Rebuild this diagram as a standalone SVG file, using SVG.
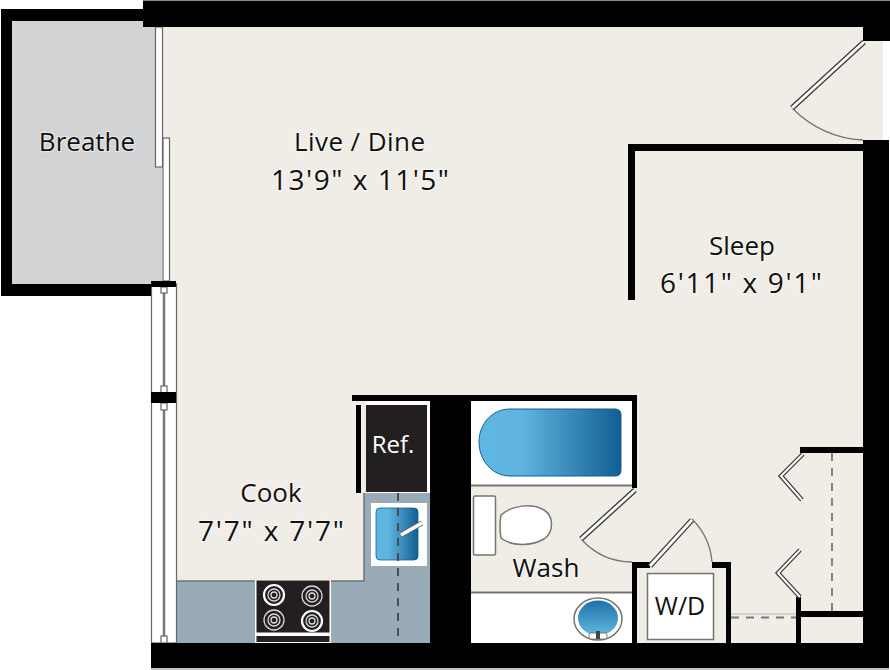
<svg xmlns="http://www.w3.org/2000/svg" width="890" height="670" viewBox="0 0 890 670">
<defs>
<linearGradient id="tub" x1="0" y1="0" x2="1" y2="0"><stop offset="0" stop-color="#5fb6e2"/><stop offset="0.3" stop-color="#5fb4df"/><stop offset="1" stop-color="#125f93"/></linearGradient>
<linearGradient id="bowl" x1="0" y1="0" x2="0" y2="1"><stop offset="0" stop-color="#1f72a8"/><stop offset="1" stop-color="#62b8e2"/></linearGradient>
</defs>
<style>
.wall{fill:#000}
.lbl{font-family:"Open Sans","Noto Sans",sans-serif;font-size:26px;fill:#111;text-anchor:middle;stroke:#fff;stroke-width:2.5px;stroke-opacity:.45;paint-order:stroke}
.fix{fill:#fff;stroke:#77756f;stroke-width:1.5}
.door{fill:none;stroke:#3a3a3a;stroke-width:5.5}
.doorin{fill:none;stroke:#fff;stroke-width:2.8}
.bif{fill:none;stroke:#3a3a3a;stroke-width:4.5}
.bifin{fill:none;stroke:#fff;stroke-width:2}
.swing{fill:none;stroke:#77756f;stroke-width:1.3}
.dash{fill:none;stroke:#77787a;stroke-width:1.8;stroke-dasharray:8 7}
.win{fill:#fff;stroke:#666;stroke-width:1.2}
.burner{fill:none;stroke:#d8d8d8;stroke-width:1.3}
</style>
<rect width="890" height="670" fill="#fff"/>
<g id="floors">
<rect x="12" y="21" width="150" height="263" fill="#d1d3d4"/>
<rect x="163" y="27" width="720" height="616" fill="#efede6"/>
<rect x="883" y="41" width="7" height="100" fill="#fff"/>
<path d="M176 581H364V493H430V643H176Z" fill="#9aabb8"/>
<path d="M176 581H364V493" fill="none" stroke="#6e7476" stroke-width="1.5"/>
<rect x="471" y="401" width="161" height="84" fill="#fff"/>
<rect x="471" y="592" width="161" height="51" fill="#fff"/>
<path d="M471 485.500H632M471 592.500H632" stroke="#77756f" stroke-width="2"/>
</g>
<g id="windows">
<rect x="155.500" y="27" width="7" height="140" class="win"/>
<rect x="163" y="138" width="6.500" height="143" fill="#fff" stroke="#666" stroke-width="1.200"/>
<rect x="151.500" y="284" width="25" height="359" class="win"/>
<path d="M164 287V643" stroke="#777" stroke-width="2.500"/>
<rect x="161" y="287" width="6" height="6" class="win"/>
<rect x="161" y="386" width="6" height="7" class="win"/>
<rect x="161" y="403" width="6" height="7" class="win"/>
<rect x="161" y="636" width="6" height="7" class="win"/>
</g>
<g id="walls">
<path class="wall" d="M143 1H890V41H863V27H143V21H12V284H151V296H1V9H143Z"/>
<rect class="wall" x="151" y="281" width="25" height="6"/>
<rect class="wall" x="151" y="392" width="25" height="11"/>
<rect class="wall" x="863" y="140" width="26" height="528"/>
<rect class="wall" x="151" y="643" width="738" height="25"/>
<path class="wall" d="M628 144H863V151H635V300H628Z"/>
<rect class="wall" x="352" y="395" width="285" height="6"/>
<rect class="wall" x="430" y="395" width="41" height="250"/>
<rect class="wall" x="632" y="395" width="5" height="93"/>
<rect class="wall" x="356" y="405" width="5" height="88"/>
<path class="wall" d="M632 562H650V568H637V643H632ZM712 562H731V643H726V568H712Z"/>
<path class="wall" d="M800 447H863V453H800Z"/>
<path class="wall" d="M796 597H801V611H863V617H801V643H796Z"/>
<path d="M143 .5H890M151 669H889" stroke="#888" stroke-width="1"/>
</g>
<g id="kitchen">
<rect x="366" y="401" width="64" height="92" fill="#fff"/>
<rect x="366" y="405" width="61" height="87" fill="#231f20"/>
<rect x="371" y="503" width="56" height="63" fill="#fff"/>
<rect x="376" y="508" width="42" height="52" rx="4" fill="url(#tub)" stroke="#125f93" stroke-width=".8"/>
<path d="M398 493V640" class="dash" style="stroke:#444"/>
<path d="M401 535L422 523" stroke="#666" stroke-width="5"/>
<path d="M401 535L422 523" stroke="#fff" stroke-width="3.500"/>
<rect x="255" y="580" width="76" height="63" fill="#fff"/>
<rect x="256.500" y="580.500" width="73" height="52" fill="#231f20"/>
<rect x="256.500" y="636" width="73" height="6" fill="#231f20"/>
<g id="burners">
<circle cx="274" cy="595" r="10" fill="none" stroke="#fff" stroke-width="2.200"/><circle cx="274" cy="595" r="6" class="burner"/><circle cx="274" cy="595" r="3" class="burner"/>
<circle cx="312" cy="596" r="10" class="burner"/><circle cx="312" cy="596" r="6" class="burner"/><circle cx="312" cy="596" r="3" class="burner"/>
<circle cx="274" cy="620" r="10" class="burner"/><circle cx="274" cy="620" r="6" class="burner"/><circle cx="274" cy="620" r="3" class="burner"/>
<circle cx="312" cy="621" r="10" fill="none" stroke="#fff" stroke-width="2.200"/><circle cx="312" cy="621" r="6" class="burner"/><circle cx="312" cy="621" r="3" class="burner"/>
</g>
</g>
<g id="bath">
<path d="M510 409H615Q621 409 621 415V470Q621 476 615 476H510C492 476 479 460 479 442C479 424 492 409 510 409Z" fill="url(#tub)" stroke="#125f93" stroke-width="1"/>
<rect x="473.500" y="496" width="22" height="59" rx="1.500" class="fix"/>
<path d="M501 515C512 505 532 503 544 510C554 516 554 532 544 539C532 546 512 547 501 538Q499 526 501 515Z" class="fix"/>
<ellipse cx="598" cy="619" rx="24" ry="21" class="fix"/>
<ellipse cx="598" cy="618" rx="20" ry="17.500" fill="url(#bowl)"/>
<rect x="589" y="633" width="18" height="6" rx="2" fill="#fff" stroke="#666" stroke-width=".8"/>
<rect x="596" y="631" width="4" height="8" fill="#444"/>
</g>
<g id="laundry">
<rect x="647.500" y="573.500" width="66" height="66" class="fix"/>
</g>
<g id="doors">
<path class="swing" d="M792 108Q822 138 863 140"/>
<path class="door" d="M864 42L792 108"/><path class="doorin" d="M864 42L792 108"/>
<path class="swing" d="M581 539Q602 562 632 562"/>
<path class="door" d="M635 490L581 539"/><path class="doorin" d="M635 490L581 539"/>
<path class="swing" d="M692 519Q710 537 712 562"/>
<path class="door" d="M650 566L692 520"/><path class="doorin" d="M650 566L692 520"/>
<path class="bif" d="M803 454L781 476L802 500"/><path class="bifin" d="M803 454L781 476L802 500"/>
<path class="bif" d="M800 550L778 573L800 597"/><path class="bifin" d="M800 550L778 573L800 597"/>
<path class="dash" d="M832 453V611"/>
<path d="M731 614H796" stroke="#bbb" stroke-width="1"/>
<path class="dash" d="M731 617.500H796"/>
</g>
<g id="labels">
<text class="lbl" x="87" y="151">Breathe</text>
<text class="lbl" x="359.500" y="151" textLength="131" lengthAdjust="spacing">Live / Dine</text>
<text class="lbl" x="360" y="190" textLength="178" lengthAdjust="spacing" style="font-size:28px">13'9" x 11'5"</text>
<text class="lbl" x="742" y="255">Sleep</text>
<text class="lbl" x="741" y="293" textLength="162" lengthAdjust="spacing" style="font-size:28px">6'11" x 9'1"</text>
<text class="lbl" x="271" y="502">Cook</text>
<text class="lbl" x="271" y="541" textLength="146" lengthAdjust="spacing" style="font-size:28px">7'7" x 7'7"</text>
<text x="393" y="453" style="font-family:'Open Sans','Noto Sans',sans-serif;font-size:24px;fill:#fff;text-anchor:middle">Ref.</text>
<text class="lbl" x="546" y="577">Wash</text>
<text class="lbl" x="680" y="615" style="font-size:25px">W/D</text>
</g>
</svg>
